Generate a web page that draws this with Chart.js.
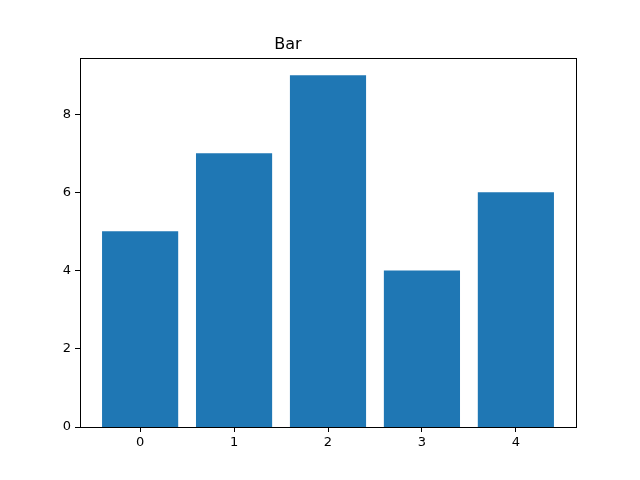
<!DOCTYPE html>
<html>
<head>
<meta charset="utf-8">
<script src="https://cdn.jsdelivr.net/npm/chart.js@4"></script>
<style>
  html, body { margin: 0; padding: 0; background: #fff; }
  #wrap { width: 640px; height: 480px; }
</style>
</head>
<body>
<div id="wrap"><canvas id="barChart" width="640" height="480"></canvas></div>
<script>
const categories = [0, 1, 2, 3, 4]
const values = [5, 7, 9, 4, 6]
const xTicks = [0, 1, 2, 3, 4]
const yTicks = [0, 2, 4, 6, 8]

// all four spines like matplotlib
const frame = {
    id: "frame",
    afterDraw(chart) {
        const a = chart.chartArea
        const c = chart.ctx
        c.save()
        c.strokeStyle = "#000"
        c.lineWidth = 1
        c.strokeRect(Math.round(a.left) + 0.5, Math.round(a.top) + 0.5,
            Math.round(a.right - a.left), Math.round(a.bottom - a.top))
        c.restore()
    }
}

Chart.defaults.font.family = "'DejaVu Sans', sans-serif"
Chart.defaults.color = "#000"

new Chart(document.getElementById("barChart"), {
    type: "bar",
    data: {
        datasets: [{
            label: "Bar",
            data: categories.map((c, i) => ({ x: c, y: values[i] })),
            backgroundColor: "#1f77b4",
            borderColor: "#1f77b4",
            borderWidth: 0,
            inflateAmount: 0.5,
            barPercentage: 0.8,
            categoryPercentage: 1
        }]
    },
    options: {
        responsive: false,
        animation: false,
        layout: { padding: { left: 0, right: 64, bottom: 0 } },
        plugins: {
            legend: { display: false },
            tooltip: { enabled: false },
            title: {
                display: true,
                text: "Bar",
                color: "#000",
                font: { size: 16, weight: "normal" },
                padding: { top: 35, bottom: 4 }
            }
        },
        scales: {
            x: {
                type: "linear",
                min: -0.64,
                max: 4.64,
                offset: false,
                afterBuildTicks: s => { s.ticks = xTicks.map(v => ({ value: v })) },
                afterFit: s => { s.height = 53 },
                grid: { offset: false, drawOnChartArea: false, tickLength: 5, tickColor: "#000" },
                border: { display: false },
                ticks: { font: { size: 13 }, padding: 3, maxRotation: 0 }
            },
            y: {
                min: 0,
                max: 9.45,
                afterBuildTicks: s => { s.ticks = yTicks.map(v => ({ value: v })) },
                afterFit: s => { s.width = 80 },
                grid: { drawOnChartArea: false, tickLength: 5, tickColor: "#000" },
                border: { display: false },
                ticks: { font: { size: 13 }, padding: 4 }
            }
        }
    },
    plugins: [frame]
})
</script>
</body>
</html>
